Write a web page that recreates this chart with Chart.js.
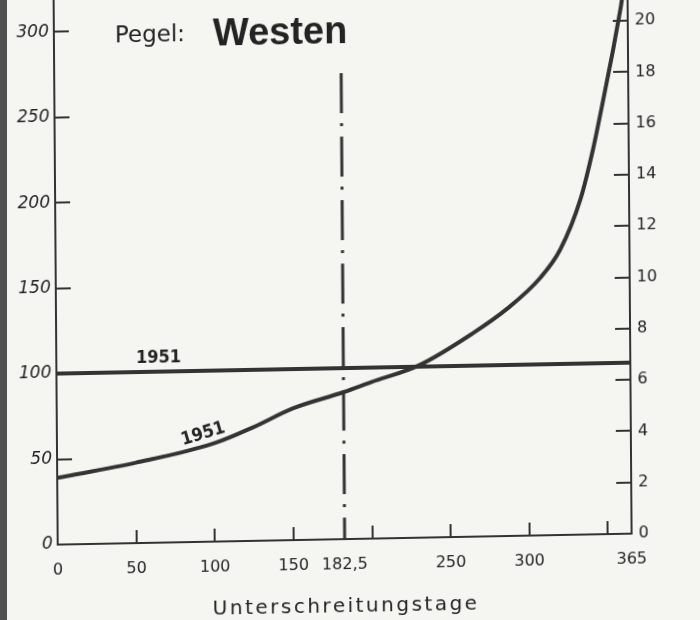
<!DOCTYPE html>
<html lang="de">
<head>
<meta charset="utf-8">
<title>Pegel: Westen</title>
<script src="https://cdn.jsdelivr.net/npm/chart.js@4.4.1/dist/chart.umd.min.js"></script>
<style>
  html, body { margin: 0; padding: 0; width: 700px; height: 620px; overflow: hidden; }
  body { position: relative; background: linear-gradient(to right, #505050 0, #505050 7px, #f5f5f2 7px); }
  /* slightly skewed sheet, as on the scanned drawing */
  #sheet { position: absolute; left: -20px; top: -20px; width: 740px; height: 660px;
           transform-origin: 370px 330px; transform: matrix(1, -0.0191, 0.0075, 1, 0, 0); }
</style>
</head>
<body>
<div id="sheet"><canvas id="chart" width="740" height="660"></canvas></div>
<script>
// Unterschreitungsdauerlinie 1951: Wasserstand (cm) über Unterschreitungstage
const durationDays  = [0, 50, 100, 125, 150, 182.5, 200, 231, 265, 287, 308, 321, 334, 342.5, 349, 355.5, 359, 361.3, 363];
const durationStage = [39, 47, 57.5, 66.5, 77, 86, 91.5, 101, 119, 133, 150.5, 167, 196, 226, 254, 283, 300, 312, 325];

// Bezugswasserstand 1951
const refDays  = [0, 365];
const refStage = [100, 100];

// halbes Jahr (182,5 Tage)
const medianDays  = [182.5, 182.5];
const medianStage = [272.6, 0];

// Achsenteilung
const xTickValues     = [0, 50, 100, 150, 182.5, 200, 250, 300, 350, 365];
const xTickLabels     = ['0', '50', '100', '150', '182,5', '', '250', '300', '', '365'];
const leftTickValues  = [0, 50, 100, 150, 200, 250, 300];
const rightTickValues = [0, 2, 4, 6, 8, 10, 12, 14, 16, 18, 20];
const stageMax    = 320;
const rightFactor = 15;   // 1 Einheit rechts entspricht 15 cm links

const ink = '#333333';
const labelInk = '#232323';
const toPoints = (xs, ys) => xs.map((v, i) => ({ x: v, y: ys[i] }));
const inwardTicks = len => ({ drawOnChartArea: false, drawTicks: true, tickLength: -len, lineWidth: 2, color: ink });
const axisBorder = { display: true, color: ink, width: 2 };
// feste Achsenmaße, ohne zusätzlichen Randabstand für Beschriftungen
const fixSize = (prop, size) => s => {
  s[prop] = size;
  s.paddingTop = 0; s.paddingBottom = 0; s.paddingLeft = 0; s.paddingRight = 0;
};

// Beschriftungen: Titel, Jahreszahlen, Achsentitel
const lettering = {
  id: 'lettering',
  afterDatasetsDraw(chart) {
    const { ctx, chartArea, scales: { x, y } } = chart;
    ctx.save();
    ctx.fillStyle = labelInk;

    ctx.font = 'bold 18px "DejaVu Sans Condensed", "DejaVu Sans", sans-serif';
    ctx.textAlign = 'center';
    ctx.textBaseline = 'middle';
    ctx.fillText('1951', x.getPixelForValue(65), y.getPixelForValue(108));
    ctx.save();
    ctx.translate(x.getPixelForValue(93), y.getPixelForValue(63));
    ctx.rotate(-16 * Math.PI / 180);
    ctx.fillText('1951', 0, 0);
    ctx.restore();

    ctx.textAlign = 'left';
    ctx.textBaseline = 'alphabetic';
    ctx.font = '23px "DejaVu Sans", sans-serif';
    ctx.fillText('Pegel:', chartArea.left + 61, 57.5);
    ctx.font = 'bold 38px "Liberation Sans", Arial, sans-serif';
    ctx.fillText('Westen', chartArea.left + 159, 63);

    ctx.font = '20px "DejaVu Sans", sans-serif';
    ctx.letterSpacing = '2.5px';
    ctx.textAlign = 'center';
    ctx.fillText('Unterschreitungstage', (chartArea.left + chartArea.right) / 2 + 1, 632);
    ctx.restore();
  }
};

new Chart(document.getElementById('chart'), {
  type: 'line',
  data: {
    datasets: [
      { label: 'Unterschreitungsdauerlinie 1951', data: toPoints(durationDays, durationStage),
        borderColor: ink, borderWidth: 4, cubicInterpolationMode: 'monotone', pointRadius: 0 },
      { label: '1951', data: toPoints(refDays, refStage),
        borderColor: ink, borderWidth: 4, pointRadius: 0 },
      { label: '182,5 Tage', data: toPoints(medianDays, medianStage),
        borderColor: ink, borderWidth: 3, borderDash: [40, 10, 3, 10.5], pointRadius: 0 }
    ]
  },
  options: {
    responsive: false,
    animation: false,
    layout: { padding: { top: 12, left: 0, right: 0, bottom: 0 } },
    plugins: { legend: { display: false }, tooltip: { enabled: false } },
    scales: {
      x: {
        type: 'linear', position: 'bottom', min: 0, max: 365,
        afterBuildTicks: s => { s.ticks = xTickValues.map(v => ({ value: v })); },
        afterFit: fixSize('height', 101),
        ticks: { autoSkip: false, maxRotation: 0, padding: 29, color: labelInk,
                 font: { family: '"DejaVu Sans", sans-serif', size: 16 },
                 callback: (v, i) => xTickLabels[i] },
        grid: inwardTicks(13),
        border: axisBorder
      },
      y: {
        position: 'left', min: 0, max: stageMax,
        afterBuildTicks: s => { s.ticks = leftTickValues.map(v => ({ value: v })); },
        afterFit: fixSize('width', 76),
        ticks: { padding: 20, color: labelInk,
                 font: { family: '"DejaVu Sans", sans-serif', size: 17, style: 'italic' } },
        grid: inwardTicks(15),
        border: axisBorder
      },
      y2: {
        position: 'right', min: 0, max: stageMax / rightFactor,
        afterBuildTicks: s => { s.ticks = rightTickValues.map(v => ({ value: v })); },
        afterFit: fixSize('width', 90),
        ticks: { padding: 22, color: labelInk,
                 font: { family: '"DejaVu Sans", sans-serif', size: 16 } },
        grid: inwardTicks(15),
        border: axisBorder
      }
    }
  },
  plugins: [lettering]
});
</script>
</body>
</html>
